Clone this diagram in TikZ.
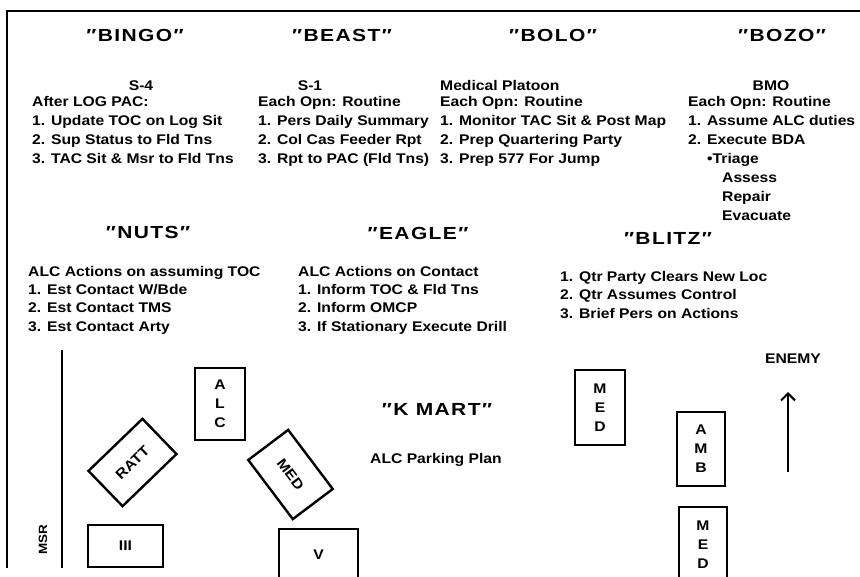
\documentclass[tikz,border=0pt]{standalone}
\usepackage{fontspec}
\usetikzlibrary{arrows.meta}
\newfontfamily\bodyfont{Liberation Sans}[FakeStretch=1.12]
\newfontfamily\titlefont{Liberation Sans}[FakeStretch=1.2,LetterSpace=8]
\tikzset{
  txt/.style={font={\bodyfont\bfseries\fontsize{14}{19}\selectfont}, inner sep=0pt, anchor=base west},
  ctxt/.style={txt, anchor=base},
  ttl/.style={font={\titlefont\bfseries\fontsize{17.5}{20}\selectfont}, inner sep=0pt, anchor=base},
  veh/.style={draw, line width=2.4pt, inner sep=0pt, align=center,
    font={\bodyfont\bfseries\fontsize{14}{19}\selectfont}},
  frame/.style={line width=2.6pt},
}
\begin{document}
\begin{tikzpicture}[x=1pt,y=-1pt]
\useasboundingbox (0,0) rectangle (860,577);
\clip (0,0) rectangle (860,577);
% frame
\coordinate (fbl) at (7,568);
\coordinate (ftl) at (7,11);
\coordinate (ftr) at (861,11);
\draw[frame] (fbl) -- (ftl) -- (ftr);
% top row titles
\node[ttl] (bingo) at (135,42) {″BINGO″};
\node[ttl] (beast) at (342,42) {″BEAST″};
\node[ttl] (bolo)  at (553,42) {″BOLO″};
\node[ttl] (bozo)  at (782,42) {″BOZO″};
% BINGO block
\node[ctxt] (s4) at (141,91) {S-4};
\node[txt] (bi0) at (32,107) {After LOG PAC:};
\node[txt] (bi1) at (32,126) {1. Update TOC on Log Sit};
\node[txt] (bi2) at (32,145) {2. Sup Status to Fld Tns};
\node[txt] (bi3) at (32,164) {3. TAC Sit \& Msr to Fld Tns};
% BEAST block
\node[ctxt] (s1) at (310,91) {S-1};
\node[txt] (be0) at (258,107) {Each Opn: Routine};
\node[txt] (be1) at (258,126) {1. Pers Daily Summary};
\node[txt] (be2) at (258,145) {2. Col Cas Feeder Rpt};
\node[txt] (be3) at (258,164) {3. Rpt to PAC (Fld Tns)};
% BOLO block
\node[txt] (bo0) at (440,91) {Medical Platoon};
\node[txt] (bo1) at (440,107) {Each Opn: Routine};
\node[txt] (bo2) at (440,126) {1. Monitor TAC Sit \& Post Map};
\node[txt] (bo3) at (440,145) {2. Prep Quartering Party};
\node[txt] (bo4) at (440,164) {3. Prep 577 For Jump};
% BOZO block
\node[ctxt] (bmo) at (771,91) {BMO};
\node[txt] (bz0) at (688,107) {Each Opn: Routine};
\node[txt] (bz1) at (688,126) {1. Assume ALC duties};
\node[txt] (bz2) at (688,145) {2. Execute BDA};
\node[txt] (bz3) at (707,164) {•Triage};
\node[txt] (bz4) at (722,183) {Assess};
\node[txt] (bz5) at (722,202) {Repair};
\node[txt] (bz6) at (722,221) {Evacuate};
% second row titles
\node[ttl] (nuts)  at (148,239) {″NUTS″};
\node[ttl] (eagle) at (418,240) {″EAGLE″};
\node[ttl] (blitz) at (668,245) {″BLITZ″};
% NUTS block
\node[txt] (nu0) at (28,277) {ALC Actions on assuming TOC};
\node[txt] (nu1) at (28,295) {1. Est Contact W/Bde};
\node[txt] (nu2) at (28,313) {2. Est Contact TMS};
\node[txt] (nu3) at (28,332) {3. Est Contact Arty};
% EAGLE block
\node[txt] (ea0) at (298,277) {ALC Actions on Contact};
\node[txt] (ea1) at (298,295) {1. Inform TOC \& Fld Tns};
\node[txt] (ea2) at (298,313) {2. Inform OMCP};
\node[txt] (ea3) at (298,332) {3. If Stationary Execute Drill};
% BLITZ block
\node[txt] (bl1) at (560,282) {1. Qtr Party Clears New Loc};
\node[txt] (bl2) at (560,300) {2. Qtr Assumes Control};
\node[txt] (bl3) at (560,319) {3. Brief Pers on Actions};
% K MART
\node[ttl] (kmart) at (437,415) {″K MART″};
\node[ctxt] (plan) at (436,464) {ALC Parking Plan};
% MSR
\coordinate (msrT) at (62,350);
\coordinate (msrB) at (62,568);
\draw[line width=2.5pt] (msrT) -- (msrB);
\node[font={\bodyfont\bfseries\fontsize{12}{14}\selectfont}, inner sep=0pt, rotate=90] (msr) at (43,540) {MSR};
% vehicles
\node[veh, minimum width=50pt, minimum height=72pt] (alc) at (220,404) {A\\L\\C};
\node[veh, minimum width=75pt, minimum height=49pt, rotate=44] (ratt) at (132.5,462.5) {RATT};
\node[veh, minimum width=74pt, minimum height=50pt, rotate=-53] (medL) at (290.5,474.5) {MED};
\node[veh, minimum width=75pt, minimum height=42pt] (iii) at (125.5,546) {III};
\node[veh, minimum width=79pt, minimum height=52pt] (v) at (318.5,555) {V};
\node[veh, minimum width=50pt, minimum height=75pt] (medA) at (600,407.5) {M\\E\\D};
\node[veh, minimum width=48pt, minimum height=74pt] (amb) at (701,449) {A\\M\\B};
\node[veh, minimum width=48pt, minimum height=76pt] (medB) at (703,545) {M\\E\\D};
% enemy
\node[ctxt] (enemy) at (793,364) {ENEMY};
\coordinate (arrS) at (788,472);
\coordinate (arrE) at (788,392);
\draw[line width=2pt, -{Straight Barb[length=7pt,width=14pt]}] (arrS) -- (arrE);
\end{tikzpicture}
\end{document}
